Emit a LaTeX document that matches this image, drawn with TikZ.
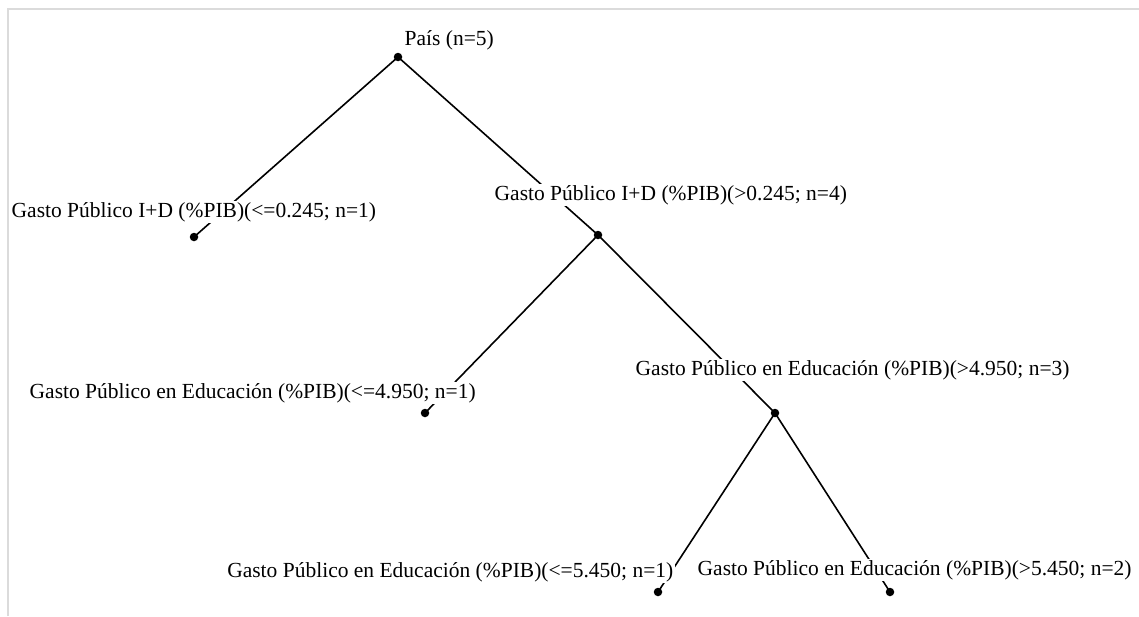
\documentclass[tikz,border=0pt]{standalone}
\usepackage{fontspec}
\setmainfont{Liberation Serif}
\begin{document}
\begin{tikzpicture}[x=1pt,y=-1pt,
  dot/.style={circle,fill=black,draw=none,inner sep=0pt,minimum size=8.5pt},
  lab/.style={fill=white,inner sep=1.5pt,anchor=base west,font=\fontsize{21.5}{26}\selectfont},
  edge/.style={line width=1.6pt}]
\useasboundingbox (0,0) rectangle (1139,616);
\draw[black!14,line width=2pt] (8,616) -- (8,9) -- (1139,9);
% split points and leaves
\node[dot] (r)   at (398,57) {};
\node[dot] (a)   at (194,237) {};
\node[dot] (b)   at (598,235) {};
\node[dot] (ba)  at (425,413) {};
\node[dot] (bb)  at (775,413) {};
\node[dot] (bba) at (658,592) {};
\node[dot] (bbb) at (890,592) {};
% connectors
\draw[edge] (r.center) -- (a.center);
\draw[edge] (r.center) -- (b.center);
\draw[edge] (b.center) -- (ba.center);
\draw[edge] (b.center) -- (bb.center);
\draw[edge] (bb.center) -- (bba.center);
\draw[edge] (bb.center) -- (bbb.center);
% labels
\node[lab] (lr)   at (403,45)  {País (n=5)};
\node[lab] (la)   at (10,217)  {Gasto Público I+D (\%PIB)(<=0.245; n=1)};
\node[lab] (lb)   at (493,200) {Gasto Público I+D (\%PIB)(>0.245; n=4)};
\node[lab] (lba)  at (28,398)  {Gasto Público en Educación (\%PIB)(<=4.950; n=1)};
\node[lab] (lbb)  at (634,375) {Gasto Público en Educación (\%PIB)(>4.950; n=3)};
\node[lab,anchor=base east] (lbba) at (675,577) {Gasto Público en Educación (\%PIB)(<=5.450; n=1)};
\node[lab] (lbbb) at (696,575) {Gasto Público en Educación (\%PIB)(>5.450; n=2)};
\end{tikzpicture}
\end{document}
